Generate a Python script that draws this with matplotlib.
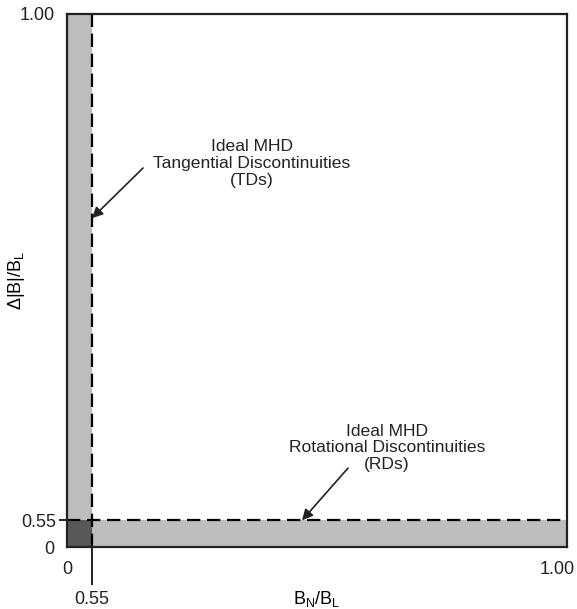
import numpy as np
import matplotlib
matplotlib.use("Agg")
import matplotlib.pyplot as plt
from matplotlib.patches import Rectangle
from matplotlib.transforms import ScaledTranslation

plt.rcParams['font.family'] = ['Liberation Sans', 'DejaVu Sans']
plt.rcParams['mathtext.default'] = 'regular'

# thresholds and axis limits (B_N/B_L and delta|B|/B_L)
x_ticks = [0.0, 1.0]
x_tick_labels = ['0', '1.00']
y_ticks = [0.0, 1.0]
y_tick_labels = ['0', '1.00']
bn_threshold = 0.55
db_threshold = 0.55
threshold_label = '0.55'

band_color = '#bdbdbd'
overlap_color = '#585858'


# schematic axis: [0, 0.55] squeezed into the first 5 % of the axis
def fwd(v):
    v = np.asarray(v, dtype=float)
    return np.where(v <= 0.55, v * 0.05 / 0.55, 0.05 + (v - 0.55) * 0.95 / 0.45)


def inv(u):
    u = np.asarray(u, dtype=float)
    return np.where(u <= 0.05, u * 0.55 / 0.05, 0.55 + (u - 0.05) * 0.45 / 0.95)


fig = plt.figure(figsize=(5.77, 6.09), dpi=100)
ax = fig.add_axes([67 / 577, 62 / 609, 500 / 577, 533 / 609])
ax.set_xscale('function', functions=(fwd, inv))
ax.set_yscale('function', functions=(fwd, inv))
ax.set_xlim(0, 1)
ax.set_ylim(0, 1)

# shaded regions: TD band, RD band, and their overlap
ax.add_patch(Rectangle((0, db_threshold), bn_threshold, 1 - db_threshold,
                       facecolor=band_color, edgecolor='none', zorder=1))
ax.add_patch(Rectangle((bn_threshold, 0), 1 - bn_threshold, db_threshold,
                       facecolor=band_color, edgecolor='none', zorder=1))
ax.add_patch(Rectangle((0, 0), bn_threshold, db_threshold,
                       facecolor=overlap_color, edgecolor='none', zorder=1))

ax.axvline(bn_threshold, color='black', lw=1.6, ls=(0, (6, 3)), zorder=2)
ax.axhline(db_threshold, color='black', lw=1.6, ls=(0, (6, 3)), zorder=2)

for s in ax.spines.values():
    s.set_linewidth(1.6)
    s.set_color('#222222')

ax.set_xticks(x_ticks)
ax.set_xticklabels(x_tick_labels)
ax.set_yticks(y_ticks)
ax.set_yticklabels(y_tick_labels)
ax.tick_params(axis='both', which='major', length=0, labelsize=13, colors='#222222')
ax.tick_params(axis='x', which='major', pad=10)
ax.tick_params(axis='y', which='major', pad=9)

# keep the right-hand "1.00" inside the figure
last = ax.get_xticklabels()[-1]
last.set_ha('right')
last.set_transform(last.get_transform() + ScaledTranslation(8 / 100, 0, fig.dpi_scale_trans))

ax.set_xticks([bn_threshold], minor=True)
ax.set_xticklabels([threshold_label], minor=True)
ax.set_yticks([db_threshold], minor=True)
ax.set_yticklabels([threshold_label], minor=True)
ax.tick_params(axis='x', which='minor', length=27, width=1.4, pad=5,
               labelsize=13, colors='#222222')
ax.tick_params(axis='y', which='minor', length=6, width=1.4, pad=2,
               labelsize=13, colors='#222222')

ax.set_xlabel('B$_N$/B$_L$', fontsize=13, va='top')
ax.xaxis.set_label_coords(0.5, -0.078)
ax.set_ylabel('\u0394|B|/B$_L$', fontsize=13)
ax.yaxis.set_label_coords(-0.08, 0.5)

ax.text(0.37, 0.72, 'Ideal MHD\nTangential Discontinuities\n(TDs)',
        transform=ax.transAxes, ha='center', va='center', fontsize=12.6,
        linespacing=1.15, color='#222222')
ax.annotate('', xy=(bn_threshold, 0.617), xycoords=('data', 'axes fraction'),
            xytext=(0.152, 0.711), textcoords='axes fraction',
            arrowprops=dict(arrowstyle='-|>', color='#222222', lw=1.2,
                            mutation_scale=16, shrinkA=0, shrinkB=0))

ax.text(0.64, 0.186, 'Ideal MHD\nRotational Discontinuities\n(RDs)',
        transform=ax.transAxes, ha='center', va='center', fontsize=12.6,
        linespacing=1.15, color='#222222')
ax.annotate('', xy=(0.47, db_threshold), xycoords=('axes fraction', 'data'),
            xytext=(0.562, 0.148), textcoords='axes fraction',
            arrowprops=dict(arrowstyle='-|>', color='#222222', lw=1.2,
                            mutation_scale=16, shrinkA=0, shrinkB=0))

fig.savefig('out.png', dpi=100)
